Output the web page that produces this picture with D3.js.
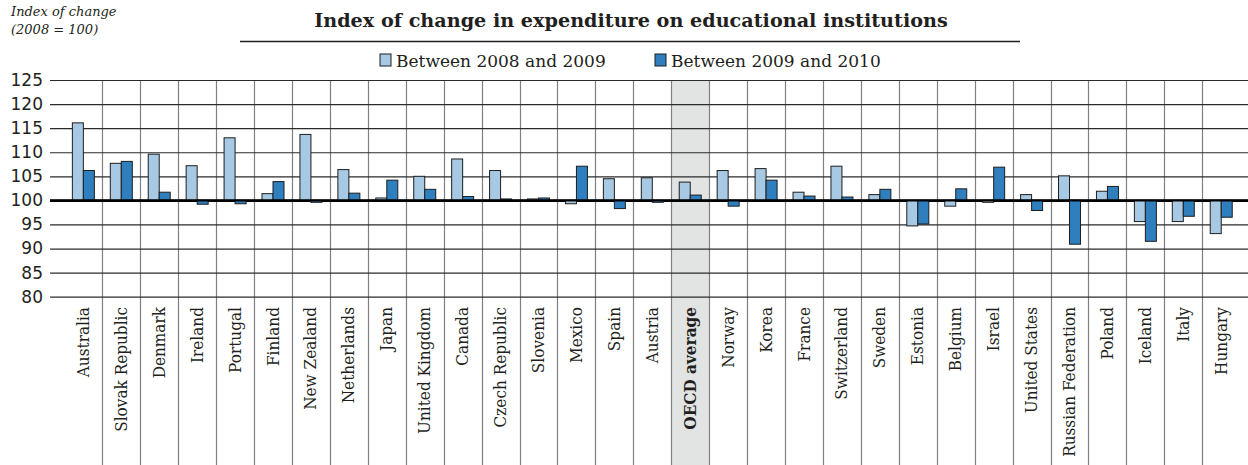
<!DOCTYPE html>
<html>
<head>
<meta charset="utf-8">
<script src="https://cdn.jsdelivr.net/npm/d3@7"></script>
<style>
  html, body { margin: 0; padding: 0; background: #fff; }
  svg { display: block; }
</style>
</head>
<body>
<svg id="chart" width="1248" height="465"></svg>
<script>
// Countries in display order
const categories = [
  "Australia", "Slovak Republic", "Denmark", "Ireland", "Portugal", "Finland",
  "New Zealand", "Netherlands", "Japan", "United Kingdom", "Canada",
  "Czech Republic", "Slovenia", "Mexico", "Spain", "Austria", "OECD average",
  "Norway", "Korea", "France", "Switzerland", "Sweden", "Estonia", "Belgium",
  "Israel", "United States", "Russian Federation", "Poland", "Iceland", "Italy",
  "Hungary"
];

// Index of change (2008 = 100)
const change2008to2009 = [
  116.1, 107.7, 109.6, 107.2, 113.0, 101.4, 113.7, 106.4, 100.5, 105.0, 108.6,
  106.2, 100.3, 99.3, 104.5, 104.7, 103.8, 106.2, 106.6, 101.7, 107.1, 101.2,
  94.7, 98.8, 99.6, 101.2, 105.1, 101.9, 95.6, 95.6, 93.1
];
const change2009to2010 = [
  106.2, 108.1, 101.7, 99.2, 99.3, 103.9, 99.6, 101.5, 104.2, 102.3, 100.8,
  100.3, 100.5, 107.1, 98.3, 99.6, 101.1, 98.8, 104.2, 100.9, 100.7, 102.3,
  95.1, 102.4, 106.9, 97.9, 90.9, 102.9, 91.5, 96.7, 96.5
];

const seriesNames = ["Between 2008 and 2009", "Between 2009 and 2010"];
const seriesColors = ["#a7c9e4", "#2f7fbe"];
const yTicks = [80, 85, 90, 95, 100, 105, 110, 115, 120, 125];
const highlight = "OECD average";

const svg = d3.select("#chart");
const W = 1248, H = 465;

const x0 = d3.scaleBand().domain(categories).range([64.4, 1240.2]).padding(0);
const bw = x0.bandwidth();
const x1 = d3.scaleBand().domain(seriesNames).range([bw / 2 - 11, bw / 2 + 11]).padding(0);
const y = d3.scaleLinear().domain([80, 125]).range([296.7, 80]);

const serifFont = "'DejaVu Serif', serif";
const condensedSerif = "'DejaVu Serif Condensed', 'DejaVu Serif', serif";
const sansFont = "'DejaVu Sans', sans-serif";

// Highlight band for the OECD average column
svg.append("rect")
  .attr("x", x0(highlight))
  .attr("y", y(125))
  .attr("width", bw)
  .attr("height", H - y(125))
  .attr("fill", "#e2e3e3");

// Vertical separators between categories, running through the label area
svg.append("g")
  .selectAll("line")
  .data(categories.slice(1))
  .join("line")
  .attr("x1", d => Math.round(x0(d)) + 0.5)
  .attr("x2", d => Math.round(x0(d)) + 0.5)
  .attr("y1", y(125))
  .attr("y2", H)
  .attr("stroke", "#808080")
  .attr("stroke-width", 1.2);

// Horizontal gridlines and tick labels
const yAxis = svg.append("g")
  .attr("transform", "translate(50,0)")
  .call(d3.axisLeft(y).tickValues(yTicks).tickSize(-(W - 50)).tickPadding(7).tickFormat(d3.format("d")));
yAxis.select(".domain").remove();
yAxis.selectAll(".tick line")
  .attr("stroke", d => d === 100 ? "#000" : "#2b2b2b")
  .attr("stroke-width", d => d === 100 ? 2.2 : 1.2);
yAxis.selectAll(".tick text")
  .attr("font-family", sansFont)
  .attr("font-size", 17)
  .attr("fill", "#231f20");

// Bars
const rows = categories.map((c, i) => ({ cat: c, vals: [change2008to2009[i], change2009to2010[i]] }));
const groups = svg.append("g")
  .selectAll("g")
  .data(rows)
  .join("g")
  .attr("transform", d => `translate(${x0(d.cat)},0)`);
groups.selectAll("rect")
  .data(d => d.vals.map((v, j) => ({ v, s: seriesNames[j], c: seriesColors[j] })))
  .join("rect")
  .attr("x", d => x1(d.s))
  .attr("width", x1.bandwidth())
  .attr("y", d => y(Math.max(d.v, 100)))
  .attr("height", d => Math.abs(y(d.v) - y(100)))
  .attr("fill", d => d.c)
  .attr("stroke", "#1e1e1e")
  .attr("stroke-width", 1);

// Baseline redrawn above the bars
svg.append("line")
  .attr("x1", 50).attr("x2", W)
  .attr("y1", y(100)).attr("y2", y(100))
  .attr("stroke", "#000").attr("stroke-width", 2.2);

// Category labels, rotated
svg.append("g")
  .selectAll("text")
  .data(categories)
  .join("text")
  .attr("transform", d => `translate(${x0(d) + bw / 2 + 5.5},307) rotate(-90)`)
  .attr("text-anchor", "end")
  .attr("font-family", condensedSerif)
  .attr("font-stretch", "condensed")
  .attr("font-size", 17)
  .attr("font-weight", d => d === highlight ? "bold" : "normal")
  .attr("fill", "#231f20")
  .text(d => d);

// Title with rule beneath
svg.append("text")
  .attr("x", 631).attr("y", 27)
  .attr("text-anchor", "middle")
  .attr("font-family", serifFont)
  .attr("font-weight", "bold")
  .attr("font-size", 19.2)
  .attr("fill", "#231f20")
  .text("Index of change in expenditure on educational institutions");
svg.append("line")
  .attr("x1", 240).attr("x2", 1020)
  .attr("y1", 41.5).attr("y2", 41.5)
  .attr("stroke", "#231f20").attr("stroke-width", 1.3);

// Legend
const legendX = [380, 655];
const legend = svg.append("g")
  .selectAll("g")
  .data(seriesNames)
  .join("g")
  .attr("transform", (d, i) => `translate(${legendX[i]},54)`);
legend.append("rect")
  .attr("width", 11).attr("height", 12)
  .attr("fill", (d, i) => seriesColors[i])
  .attr("stroke", "#1e1e1e").attr("stroke-width", 1);
legend.append("text")
  .attr("x", 16).attr("y", 13)
  .attr("font-family", serifFont)
  .attr("font-size", 17)
  .attr("fill", "#231f20")
  .text(d => d);

// Axis title
const axisTitle = svg.append("text")
  .attr("font-family", serifFont)
  .attr("font-style", "italic")
  .attr("font-size", 13)
  .attr("fill", "#231f20");
axisTitle.append("tspan").attr("x", 11).attr("y", 16).text("Index of change");
axisTitle.append("tspan").attr("x", 11).attr("y", 34).text("(2008 = 100)");
</script>
</body>
</html>
